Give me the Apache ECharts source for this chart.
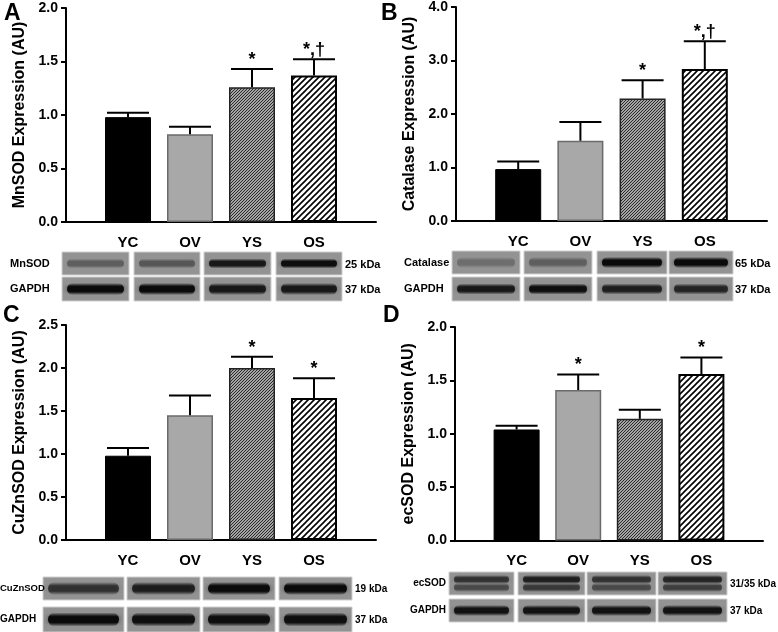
<!DOCTYPE html>
<html><head><meta charset="utf-8">
<script src="https://cdn.jsdelivr.net/npm/echarts@6/dist/echarts.min.js"></script>
<style>html,body{margin:0;padding:0;background:#fff}#c{width:778px;height:632px}</style>
</head><body><div id="c"></div>
<script>
// ---------- data ----------
const groups = ['YC', 'OV', 'YS', 'OS'];

const mnsodMean = [0.98, 0.82, 1.26, 1.37];
const mnsodErr  = [1.02, 0.89, 1.43, 1.52];
const mnsodSig  = ['', '', '*', '*,†'];

const catalaseMean = [0.97, 1.50, 2.29, 2.84];
const catalaseErr  = [1.11, 1.85, 2.63, 3.36];
const catalaseSig  = ['', '', '*', '*,†'];

const cuznsodMean = [0.98, 1.45, 2.00, 1.65];
const cuznsodErr  = [1.07, 1.68, 2.13, 1.88];
const cuznsodSig  = ['', '', '*', '*'];

const ecsodMean = [1.04, 1.41, 1.14, 1.56];
const ecsodErr  = [1.075, 1.555, 1.225, 1.715];
const ecsodSig  = ['', '*', '', '*'];

// y-axis ticks: [max, interval]
const ticksA = [2.0, 0.5];
const ticksB = [4.0, 1.0];
const ticksC = [2.5, 0.5];
const ticksD = [2.0, 0.5];

// western blot band darkness (0..1) per lane
const mnsodBand    = [0.35, 0.40, 0.85, 0.95];
const catalaseBand = [0.25, 0.35, 1.00, 1.00];
const cuznsodBand  = [0.65, 0.80, 1.00, 1.00];
const ecsodBand    = [0.65, 0.80, 0.65, 0.75];
const gapdhBandA   = [1.00, 1.00, 0.85, 0.85];
const gapdhBandB   = [0.85, 0.95, 0.80, 0.75];
const gapdhBandC   = [1.00, 0.95, 0.95, 0.95];
const gapdhBandD   = [0.90, 0.90, 0.90, 0.90];

// ---------- styles ----------
const FONT = '"Liberation Sans", Arial, sans-serif';
function hatch(size, bg, fg, lw) {
  const c = document.createElement('canvas');
  c.width = c.height = size;
  const g = c.getContext('2d');
  g.fillStyle = bg; g.fillRect(0, 0, size, size);
  g.strokeStyle = fg; g.lineWidth = lw;
  g.beginPath();
  g.moveTo(-1, size + 1); g.lineTo(size + 1, -1);
  g.moveTo(-1, 1); g.lineTo(1, -1);
  g.moveTo(size - 1, size + 1); g.lineTo(size + 1, size - 1);
  g.stroke();
  return c;
}
const densePat = { image: hatch(3, '#a4a4a4', '#2a2a2a', 1), repeat: 'repeat' };
const sparsePat = { image: hatch(6, '#ffffff', '#000000', 1.6), repeat: 'repeat' };
const barStyles = [
  { color: '#000', borderColor: '#000', borderWidth: 1 },
  { color: '#a8a8a8', borderColor: '#6a6a6a', borderWidth: 1.5 },
  { color: densePat, borderColor: '#222', borderWidth: 1.5 },
  { color: sparsePat, borderColor: '#000', borderWidth: 2 }
];

const panels = [
  { letter: 'A', lx: 4, ly: 2, name: 'MnSOD Expression (AU)', mean: mnsodMean, err: mnsodErr, sig: mnsodSig, ticks: ticksA,
    grid: { left: 66, top: 8, width: 310, height: 214 } },
  { letter: 'B', lx: 381, ly: 2, name: 'Catalase Expression (AU)', mean: catalaseMean, err: catalaseErr, sig: catalaseSig, ticks: ticksB,
    grid: { left: 456, top: 6, width: 311, height: 215 } },
  { letter: 'C', lx: 3, ly: 304, name: 'CuZnSOD Expression (AU)', mean: cuznsodMean, err: cuznsodErr, sig: cuznsodSig, ticks: ticksC,
    grid: { left: 66, top: 325, width: 310, height: 215 } },
  { letter: 'D', lx: 383, ly: 304, name: 'ecSOD Expression (AU)', mean: ecsodMean, err: ecsodErr, sig: ecsodSig, ticks: ticksD,
    grid: { left: 455, top: 327, width: 308, height: 213.5 } }
];

const blots = [
  { lanes: [[62,129],[134,200],[204,271],[276,342]], labelX: 10, align: 'left', fs: 11, kdaX: 345,
    rows: [ { label: 'MnSOD', kda: '25 kDa', y: 252, h: 23, bands: mnsodBand, bh: 10 },
            { label: 'GAPDH', kda: '37 kDa', y: 277, h: 24, bands: gapdhBandA, bh: 12 } ] },
  { lanes: [[452,520],[524,592],[597,667],[669,733]], labelX: 404, align: 'left', fs: 11, kdaX: 735,
    rows: [ { label: 'Catalase', kda: '65 kDa', y: 251, h: 23, bands: catalaseBand, bh: 11 },
            { label: 'GAPDH', kda: '37 kDa', y: 277, h: 24, bands: gapdhBandB, bh: 11 } ] },
  { lanes: [[43,124],[127,200],[203,275],[279,352]], labelX: 0, align: 'left', fs: 10, kdaX: 355,
    rows: [ { label: 'CuZnSOD', kda: '19 kDa', y: 577, h: 23, bands: cuznsodBand, bh: 13, lfs: 9.5 },
            { label: 'GAPDH', kda: '37 kDa', y: 607, h: 25, bands: gapdhBandC, bh: 14 } ] },
  { lanes: [[449,514],[518,585],[587,656],[658,727]], labelX: 446, align: 'right', fs: 10, kdaX: 730,
    rows: [ { label: 'ecSOD', kda: '31/35 kDa', y: 572, h: 23, bands: ecsodBand, bh: 9, dbl: true },
            { label: 'GAPDH', kda: '37 kDa', y: 599, h: 23, bands: gapdhBandD, bh: 11 } ] }
];

// ---------- build ----------
const grid = [], xAxis = [], yAxis = [], series = [], graphic = [];
panels.forEach((p, k) => {
  grid.push(Object.assign({ containLabel: false }, p.grid));
  xAxis.push({
    type: 'value', gridIndex: k, min: 0, max: 5, interval: 1,
    axisLine: { show: true, lineStyle: { color: '#000', width: 2 } },
    axisTick: { show: false }, splitLine: { show: false },
    axisLabel: { margin: 13, fontFamily: FONT, fontWeight: 'bold', fontSize: 15, color: '#000',
      formatter: v => groups[v - 1] || '' }
  });
  yAxis.push({
    type: 'value', gridIndex: k, min: 0, max: p.ticks[0], interval: p.ticks[1],
    name: p.name, nameLocation: 'middle', nameGap: 38,
    nameTextStyle: { fontFamily: FONT, fontWeight: 'bold', fontSize: 16, color: '#000' },
    axisLine: { show: true, lineStyle: { color: '#000', width: 2 } },
    axisTick: { show: true, length: 5, lineStyle: { color: '#000', width: 2 } },
    splitLine: { show: false },
    axisLabel: { margin: 8, fontFamily: FONT, fontWeight: 'bold', fontSize: 14, color: '#000',
      formatter: v => v.toFixed(1) }
  });
  series.push({
    type: 'bar', xAxisIndex: k, yAxisIndex: k, barWidth: 46, silent: true,
    data: groups.map((g, i) => ({ value: [i + 1, p.mean[i]], itemStyle: barStyles[i] }))
  });
  series.push({
    type: 'custom', xAxisIndex: k, yAxisIndex: k, silent: true, z: 5,
    data: groups.map((g, i) => [i + 1, p.mean[i], p.err[i], i]),
    renderItem: (params, api) => {
      const a = api.coord([api.value(0), api.value(1)]);
      const b = api.coord([api.value(0), api.value(2)]);
      const s = p.sig[api.value(3)];
      const ls = { stroke: '#000', lineWidth: 2 };
      const ch = [
        { type: 'line', shape: { x1: a[0], y1: a[1], x2: b[0], y2: b[1] }, style: ls },
        { type: 'line', shape: { x1: b[0] - 21, y1: b[1], x2: b[0] + 21, y2: b[1] }, style: ls }
      ];
      if (s) ch.push({ type: 'text', style: { text: s, x: b[0], y: b[1] - 9, align: 'center', verticalAlign: 'middle',
        font: 'bold 18px ' + FONT, fill: '#000' } });
      return { type: 'group', children: ch };
    }
  });
  graphic.push({ type: 'text', left: p.lx, top: p.ly, style: { text: p.letter, font: 'bold 23px ' + FONT, fill: '#000' } });
});

function bandFill(d) {
  return { type: 'linear', x: 0, y: 0, x2: 0, y2: 1, colorStops: [
    { offset: 0, color: 'rgba(10,10,10,0)' },
    { offset: 0.3, color: 'rgba(10,10,10,' + d + ')' },
    { offset: 0.7, color: 'rgba(10,10,10,' + d + ')' },
    { offset: 1, color: 'rgba(10,10,10,0)' } ] };
}

blots.forEach(b => {
  b.rows.forEach(r => {
    b.lanes.forEach((ln, i) => {
      const w = ln[1] - ln[0];
      graphic.push({ type: 'rect', shape: { x: ln[0], y: r.y, width: w, height: r.h },
        style: { fill: '#939393', stroke: '#cfcfcf', lineWidth: 1 } });
      const d = r.bands[i];
      const offs = r.dbl ? [-4, 4] : [0];
      offs.forEach((o, j) => {
        const dd = r.dbl && j === 1 ? d * 0.75 : d;
        graphic.push({ type: 'rect', shape: { x: ln[0] + 5, y: r.y + r.h / 2 - r.bh / 2 + o, width: w - 10, height: r.bh, r: r.bh / 2 },
          style: { fill: bandFill(dd), shadowBlur: 5, shadowColor: 'rgba(10,10,10,' + (dd * 0.5) + ')' } });
      });
    });
    graphic.push({ type: 'text', x: b.labelX, y: r.y + r.h / 2, style: { text: r.label, font: 'bold ' + (r.lfs || b.fs) + 'px ' + FONT, fill: '#000', verticalAlign: 'middle', align: b.align } });
    graphic.push({ type: 'text', x: b.kdaX, y: r.y + r.h / 2 + 1, style: { text: r.kda, font: 'bold ' + b.fs + 'px ' + FONT, fill: '#000', verticalAlign: 'middle' } });
  });
});

const chart = echarts.init(document.getElementById('c'), null, { renderer: 'canvas' });
chart.setOption({ animation: false, backgroundColor: '#fff', grid, xAxis, yAxis, series, graphic });
</script></body></html>
